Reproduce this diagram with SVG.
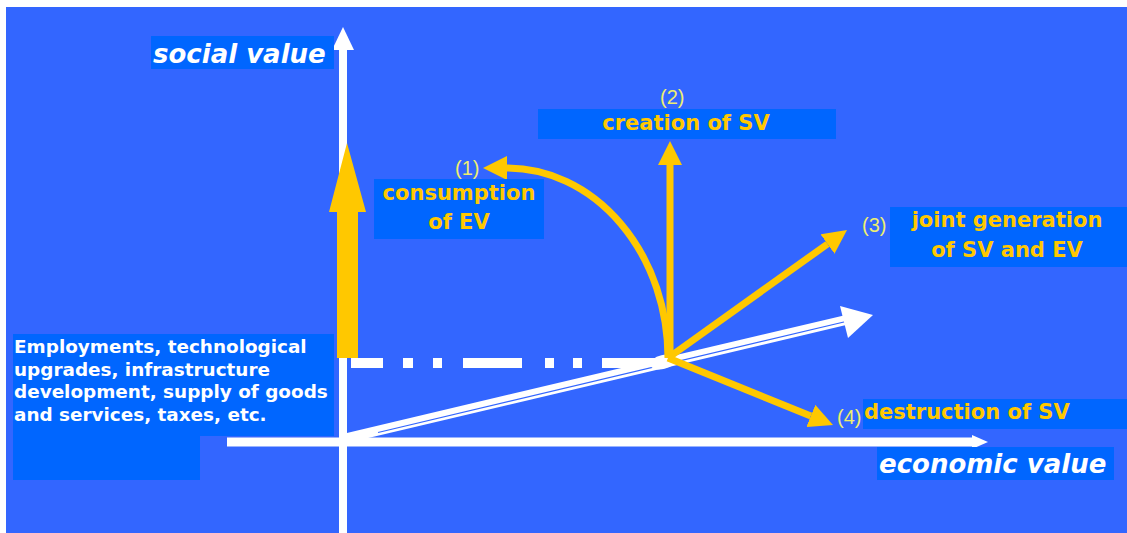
<svg xmlns="http://www.w3.org/2000/svg" width="1127" height="533" viewBox="0 0 1127 533">
  <style>
    .box { fill: #0066FF; }
    .axis { stroke: #FFFFFF; fill: none; }
    .white { fill: #FFFFFF; }
    .gold { fill: #FFC800; }
    .ylw { stroke: #FFC800; stroke-width: 7; fill: none; }
    .axlabel { font-family: "DejaVu Sans", Verdana, sans-serif; font-weight: bold; font-style: italic; font-size: 26px; fill: #FFFFFF; }
    .lbl { font-family: "DejaVu Sans", Verdana, sans-serif; font-weight: bold; font-size: 21px; fill: #FFC800; }
    .num { font-family: "Liberation Sans", Arial, sans-serif; font-size: 20px; fill: #EEEE70; }
    .note { font-family: "DejaVu Sans", Verdana, sans-serif; font-weight: bold; font-size: 18.4px; fill: #FFFFFF; }
  </style>
  <defs>
    <marker id="head" viewBox="0 0 24 24" refX="0" refY="12" markerWidth="24" markerHeight="24" markerUnits="userSpaceOnUse" orient="auto">
      <path d="M0,0 L24,12 L0,24 z" fill="#FFC800"/>
    </marker>
  </defs>

  <!-- page background -->
  <rect x="0" y="0" width="1127" height="533" fill="#FFFFFF"/>
  <rect x="6" y="7" width="1121" height="526" fill="#3366FF"/>

  <!-- axes and reference lines -->
  <g id="connectors">
    <!-- social value axis -->
    <line class="axis" x1="343" y1="533" x2="343" y2="48" stroke-width="8"/>
    <polygon class="white" points="343,27 354,50 332,50"/>
    <!-- economic value axis -->
    <line class="axis" x1="227" y1="442" x2="974" y2="442" stroke-width="9"/>
    <polygon class="white" points="988,442 972,435 972,449"/>
    <!-- dash-dot projection line -->
    <g class="white">
      <rect x="351" y="358" width="32" height="10"/>
      <rect x="403" y="358" width="10" height="10"/>
      <rect x="433" y="358" width="9" height="10"/>
      <rect x="463" y="358" width="59" height="10"/>
      <rect x="545" y="358" width="9" height="10"/>
      <rect x="573" y="358" width="9" height="10"/>
      <rect x="602" y="358" width="58" height="10"/>
    </g>
    <!-- double-line diagonal trajectory -->
    <line class="axis" x1="347" y1="438" x2="846" y2="320" stroke-width="10"/>
    <line x1="378" y1="432.5" x2="846" y2="321.5" stroke="#3366FF" stroke-width="1.2"/>
    <polygon class="white" points="873,315 840,306 848,338"/>
    <ellipse class="white" cx="663" cy="362" rx="13" ry="7" transform="rotate(-13 663 362)"/>
    <!-- big upward contribution arrow -->
    <polygon class="gold" points="337,358 358,358 358,212 366,212 347,143 329,212 337,212"/>
    <!-- (1) consumption of EV -->
    <path class="ylw" d="M668,358 A161,190 0 0 0 507,168" marker-end="url(#head)"/>
    <!-- (2) creation of SV -->
    <line class="ylw" x1="670" y1="358" x2="670" y2="165" marker-end="url(#head)"/>
    <!-- (3) joint generation -->
    <line class="ylw" x1="668" y1="358" x2="827.5" y2="244" marker-end="url(#head)"/>
    <!-- (4) destruction of SV -->
    <line class="ylw" x1="668" y1="358" x2="810.8" y2="416" marker-end="url(#head)"/>
  </g>

  <g id="social-value">
    <rect class="box" x="151" y="36" width="183" height="33"/>
    <text class="axlabel" x="153" y="63">social value</text>
  </g>

  <g id="economic-value">
    <rect class="box" x="877" y="447" width="237" height="33"/>
    <text class="axlabel" x="879" y="473">economic value</text>
  </g>

  <g id="contributions">
    <path class="box" d="M13,334 H334 V436 H200 V480 H13 z"/>
    <text class="note" x="14" y="353">Employments, technological</text>
    <text class="note" x="14" y="375.5">upgrades, infrastructure</text>
    <text class="note" x="14" y="398">development, supply of goods</text>
    <text class="note" x="14" y="420.5">and services, taxes, etc.</text>
  </g>

  <g id="consumption">
    <text class="num" x="455" y="175">(1)</text>
    <rect class="box" x="374" y="179" width="170" height="60"/>
    <text class="lbl" x="459" y="200" text-anchor="middle">consumption</text>
    <text class="lbl" x="459" y="229" text-anchor="middle">of EV</text>
  </g>

  <g id="creation">
    <text class="num" x="660" y="104">(2)</text>
    <rect class="box" x="538" y="109" width="298" height="30"/>
    <text class="lbl" x="686" y="130" text-anchor="middle">creation of SV</text>
  </g>

  <g id="joint-generation">
    <text class="num" x="862" y="232">(3)</text>
    <rect class="box" x="890" y="207" width="237" height="60"/>
    <text class="lbl" x="1007" y="227" text-anchor="middle">joint generation</text>
    <text class="lbl" x="1007" y="257" text-anchor="middle">of SV and EV</text>
  </g>

  <g id="destruction">
    <rect class="box" x="863" y="399" width="264" height="30"/>
    <text class="num" x="837" y="424">(4)</text>
    <text class="lbl" x="864" y="419">destruction of SV</text>
  </g>
</svg>
